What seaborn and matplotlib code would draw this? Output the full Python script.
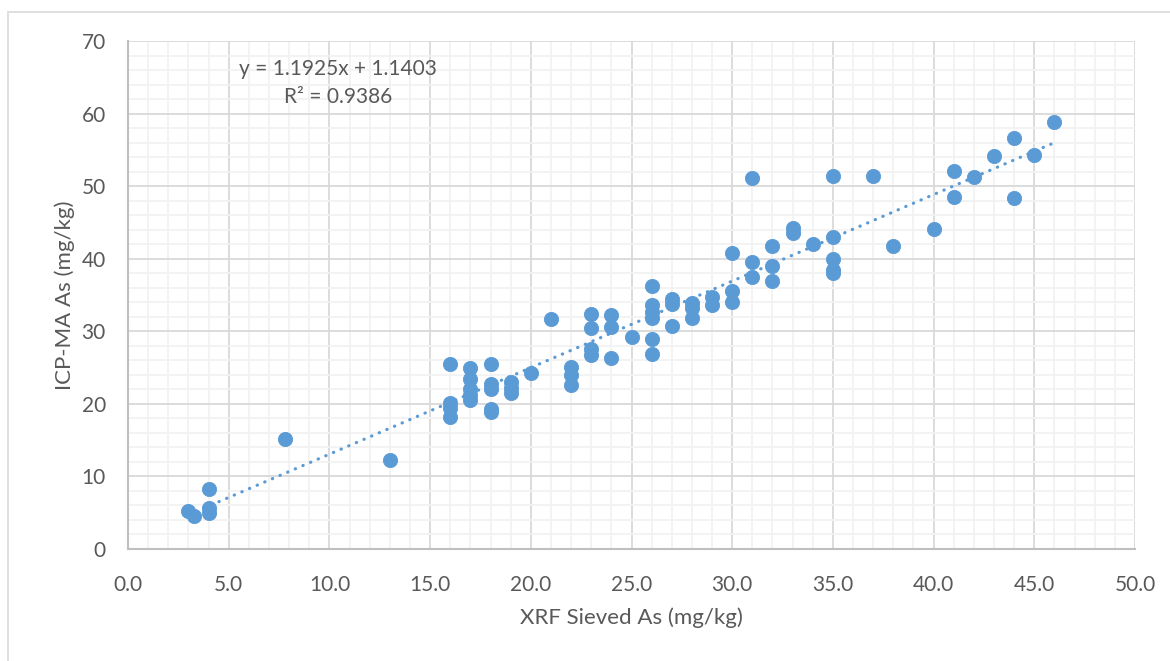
import matplotlib
matplotlib.use("Agg")
import matplotlib.pyplot as plt
from matplotlib.ticker import MultipleLocator, FormatStrFormatter
from matplotlib.patches import Rectangle
import numpy as np
import pandas as pd
import seaborn as sns

# ---- data ----
xrf_sieved_as = [
    3.0, 3.3, 4, 4, 4, 7.8, 13,
    16, 16, 16, 16,
    17, 17, 17, 17, 17,
    18, 18, 18, 18, 18,
    19, 19, 19,
    20, 21,
    22, 22, 22,
    23, 23, 23, 23,
    24, 24, 24,
    25,
    26, 26, 26, 26, 26, 26,
    27, 27, 27,
    28, 28, 28,
    29, 29,
    30, 30, 30,
    31, 31, 31,
    32, 32, 32,
    33, 33,
    34,
    35, 35, 35, 35, 35,
    37, 38, 40,
    41, 41,
    42, 43,
    44, 44,
    45, 46,
]
icp_ma_as = [
    5.2, 4.6, 8.3, 5.6, 4.9, 15.2, 12.3,
    25.5, 20.1, 19.4, 18.2,
    24.9, 23.4, 22.0, 21.2, 20.5,
    25.5, 22.7, 22.1, 19.3, 18.9,
    23.0, 22.2, 21.5,
    24.3, 31.7,
    25.1, 24.0, 22.6,
    32.4, 30.4, 27.5, 26.7,
    32.3, 30.6, 26.3,
    29.2,
    36.3, 33.6, 32.6, 31.8, 29.0, 26.9,
    34.5, 33.8, 30.7,
    33.9, 33.2, 31.8,
    34.7, 33.6,
    40.8, 35.5, 34.1,
    51.1, 39.6, 37.5,
    41.8, 39.0, 36.9,
    44.3, 43.5,
    42.0,
    51.4, 43.0, 40.0, 38.4, 38.0,
    51.4, 41.7, 44.1,
    52.1, 48.5,
    51.3, 54.2,
    56.6, 48.3,
    54.3, 58.8,
]
trend_slope = 1.1925
trend_intercept = 1.1403
r_squared = 0.9386
x_label = "XRF Sieved As (mg/kg)"
y_label = "ICP-MA As (mg/kg)"
equation_text = "y = 1.1925x + 1.1403"
r2_text = "R² = 0.9386"

df = pd.DataFrame({"xrf": xrf_sieved_as, "icp": icp_ma_as})
trend_x = [min(xrf_sieved_as), max(xrf_sieved_as)]
trend_df = pd.DataFrame({"x": trend_x,
                         "y": [trend_slope * v + trend_intercept for v in trend_x]})

# ---- style ----
sns.set_theme(style="white")
plt.rcParams["font.family"] = ["Lato", "DejaVu Sans"]

BLUE = "#5B9BD5"
TEXT = "#595959"

fig = plt.figure(figsize=(11.70, 6.61), dpi=100)
fig.patch.set_facecolor("white")
ax = fig.add_axes([128 / 1170, 1 - 549 / 661, 1007 / 1170, 508 / 661])

# trend line (dotted)
sns.lineplot(data=trend_df, x="x", y="y", ax=ax, color=BLUE, lw=2.3,
             zorder=3, legend=False)
ln = ax.lines[-1]
ln.set_linestyle((0, (0.1, 2.5)))
ln.set_dash_capstyle("round")

sns.scatterplot(data=df, x="xrf", y="icp", ax=ax, color=BLUE, s=105,
                edgecolor=BLUE, linewidth=0.6, zorder=4, legend=False)

ax.set_xlim(0, 50)
ax.set_ylim(0, 70)
ax.xaxis.set_major_locator(MultipleLocator(5))
ax.xaxis.set_minor_locator(MultipleLocator(1))
ax.yaxis.set_major_locator(MultipleLocator(10))
ax.yaxis.set_minor_locator(MultipleLocator(2))
ax.xaxis.set_major_formatter(FormatStrFormatter("%.1f"))

ax.grid(which="minor", color="#F2F2F2", lw=1.3, zorder=0)
ax.grid(which="major", color="#D9D9D9", lw=1.3, zorder=1)
ax.set_axisbelow(True)

for s in ["top", "right"]:
    ax.spines[s].set_visible(False)
for s in ["left", "bottom"]:
    ax.spines[s].set_color("#BFBFBF")
    ax.spines[s].set_linewidth(1.5)

ax.tick_params(axis="x", which="both", length=0, pad=19, labelsize=15, labelcolor=TEXT)
ax.tick_params(axis="y", which="both", length=0, pad=16, labelsize=15, labelcolor=TEXT)

ax.set_xlabel(x_label, fontsize=16, color=TEXT)
ax.set_ylabel(y_label, fontsize=16, color=TEXT)
ax.xaxis.set_label_coords(0.5, -0.115)
ax.yaxis.set_label_coords(-0.053, 0.5)

ax.text(0.2085, 0.945, equation_text, transform=ax.transAxes, ha="center",
        va="center", fontsize=15, color=TEXT)
ax.text(0.2085, 0.890, r2_text, transform=ax.transAxes, ha="center",
        va="center", fontsize=15, color=TEXT)

# outer chart-area border
fig.patches.append(Rectangle((8 / 1170, -0.05), 1.2, 1 - 12 / 661 + 0.05,
                             transform=fig.transFigure, fill=False,
                             edgecolor="#D9D9D9", lw=1.2))

fig.savefig("out.png", dpi=100, facecolor="white")
